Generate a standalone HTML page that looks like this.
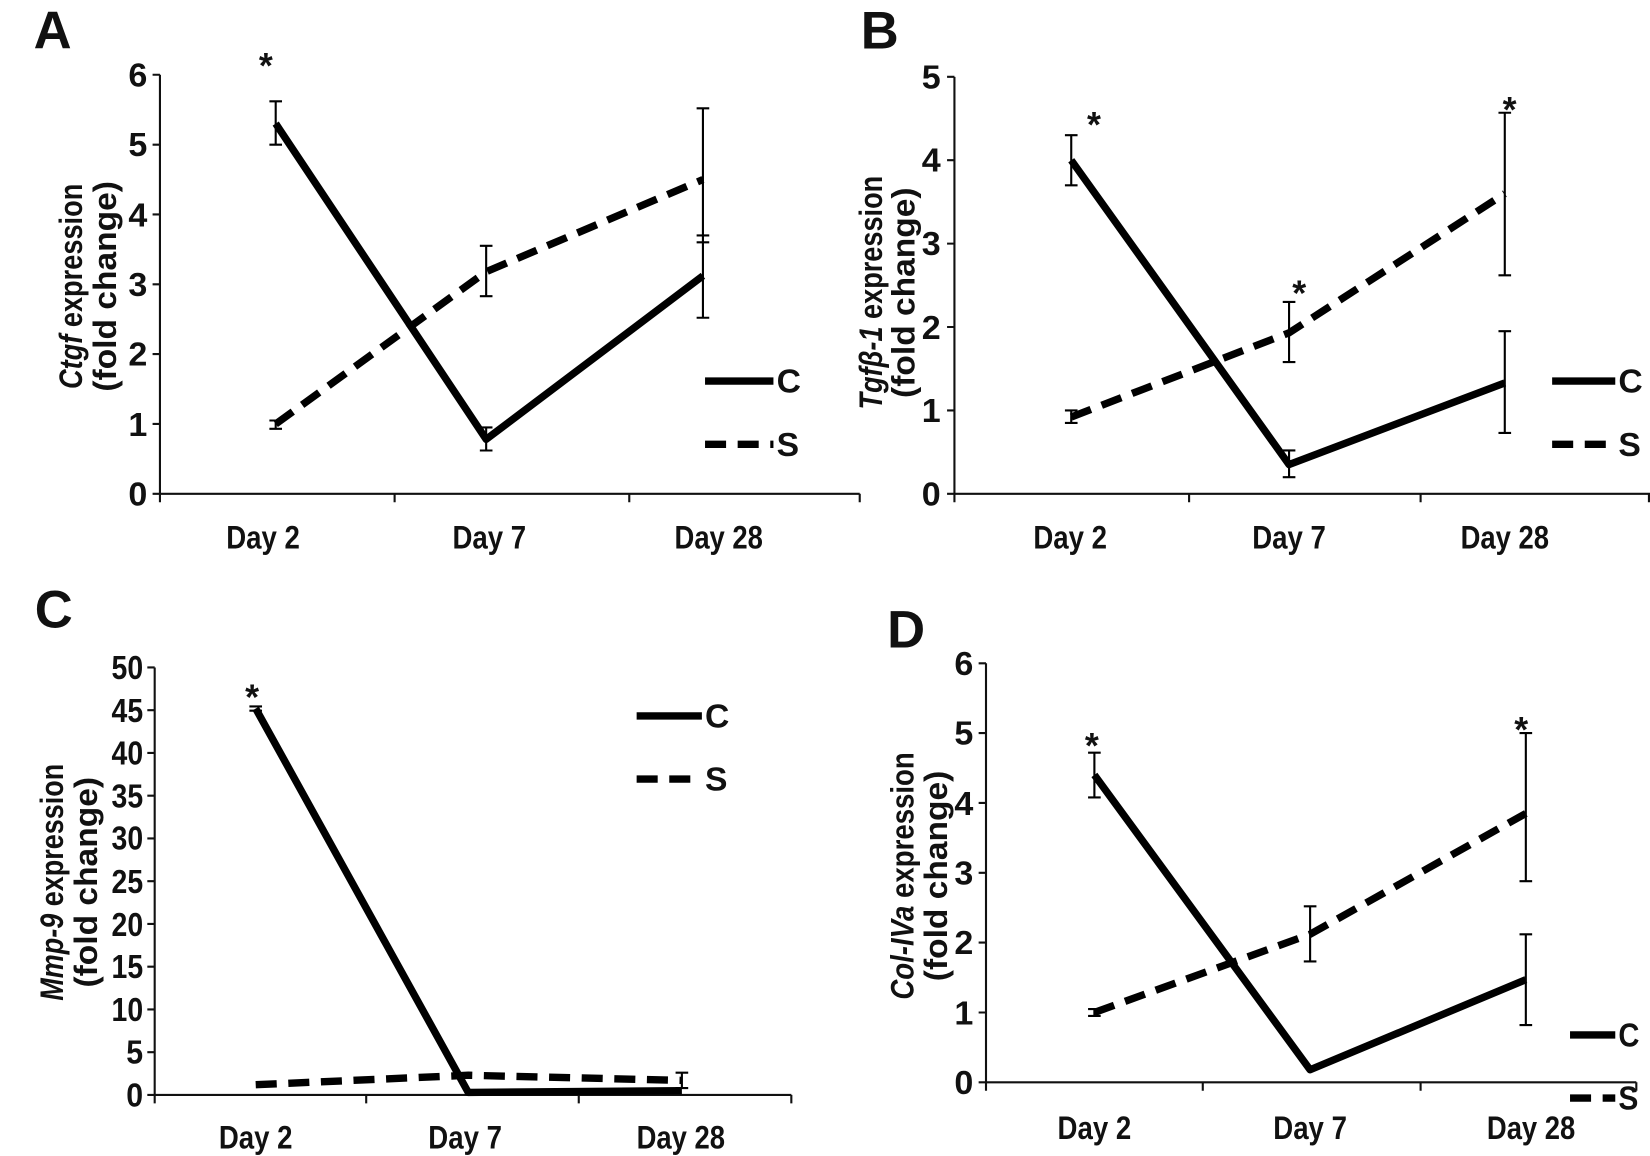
<!DOCTYPE html>
<html><head><meta charset="utf-8"><style>
html,body{margin:0;padding:0;background:#fff;}
svg{display:block;}
text{font-family:"Liberation Sans Narrow","Liberation Sans",Arial,sans-serif;font-weight:bold;fill:#111;}
.t{font-size:32px;}
.d{font-size:31px;}
.ti{font-size:31px;}
.L{font-size:50px;font-family:"Liberation Sans",Arial,sans-serif;}
.st{font-size:34px;font-family:"Liberation Sans",Arial,sans-serif;}
.ax{stroke:#111;stroke-width:2;fill:none;}
.c{stroke:#000;stroke-width:7;fill:none;stroke-linejoin:round;}
.s{stroke:#000;stroke-width:7;fill:none;stroke-dasharray:20 11;}
.e{stroke:#000;stroke-width:2;fill:none;}
</style></head><body>
<svg width="1650" height="1156" viewBox="0 0 1568 1098" preserveAspectRatio="none">
<!-- Panel A -->
<text class="L" x="32" y="46">A</text>
<path class="ax" d="M152 71V469H817M145 71H152M145 137.4H152M145 203.7H152M145 270H152M145 336.3H152M145 402.7H152M145 469H152M152 469V477M375 469V477M598 469V477M817 469V477"/>
<g class="t" text-anchor="end"><text x="140" y="82" textLength="18" lengthAdjust="spacingAndGlyphs">6</text><text x="140" y="148" textLength="18" lengthAdjust="spacingAndGlyphs">5</text><text x="140" y="215" textLength="18" lengthAdjust="spacingAndGlyphs">4</text><text x="140" y="281" textLength="18" lengthAdjust="spacingAndGlyphs">3</text><text x="140" y="347" textLength="18" lengthAdjust="spacingAndGlyphs">2</text><text x="140" y="414" textLength="18" lengthAdjust="spacingAndGlyphs">1</text><text x="140" y="480" textLength="18" lengthAdjust="spacingAndGlyphs">0</text></g>
<g class="d" text-anchor="middle"><text x="250" y="521" textLength="70" lengthAdjust="spacingAndGlyphs">Day 2</text><text x="465" y="521" textLength="70" lengthAdjust="spacingAndGlyphs">Day 7</text><text x="683" y="521" textLength="84" lengthAdjust="spacingAndGlyphs">Day 28</text></g>
<text class="ti" transform="translate(78,272) rotate(-90)" text-anchor="middle" textLength="195" lengthAdjust="spacingAndGlyphs"><tspan font-style="italic">Ctgf</tspan> expression</text>
<text class="ti" transform="translate(110,272) rotate(-90)" text-anchor="middle" textLength="200" lengthAdjust="spacingAndGlyphs">(fold change)</text>
<path class="s" d="M262 402.7L462 258.1L668 170.5"/>
<path class="c" d="M262 117.4L462 417.3L668 262"/>
<path class="e" d="M262 96.2V137.4M256 96.2H268M256 137.4H268M462 406V427.9M456 406H468M456 427.9H468M668 223.6V301.8M662 223.6H674M662 301.8H674M262 399.4V407.3M256 399.4H268M256 407.3H268M462 233.5V281.3M456 233.5H468M456 281.3H468M668 102.9V230.2M662 102.9H674M662 230.2H674"/>
<text class="st" x="246" y="74">*</text>
<path class="c" d="M670 362H735"/><path class="s" d="M670 422H735" stroke-dasharray="18 9"/>
<text class="t" x="738" y="373">C</text><text class="t" x="738" y="433">S</text>

<!-- Panel B -->
<text class="L" x="818" y="46">B</text>
<path class="ax" d="M907 73V469H1568M900 73H907M900 152.2H907M900 231.4H907M900 310.6H907M900 389.8H907M900 469H907M907 469V477M1130 469V477M1350 469V477M1567 469V477"/>
<g class="t" text-anchor="end"><text x="894" y="84" textLength="18" lengthAdjust="spacingAndGlyphs">5</text><text x="894" y="163" textLength="18" lengthAdjust="spacingAndGlyphs">4</text><text x="894" y="242" textLength="18" lengthAdjust="spacingAndGlyphs">3</text><text x="894" y="322" textLength="18" lengthAdjust="spacingAndGlyphs">2</text><text x="894" y="401" textLength="18" lengthAdjust="spacingAndGlyphs">1</text><text x="894" y="480" textLength="18" lengthAdjust="spacingAndGlyphs">0</text></g>
<g class="d" text-anchor="middle"><text x="1017" y="521" textLength="70" lengthAdjust="spacingAndGlyphs">Day 2</text><text x="1225" y="521" textLength="70" lengthAdjust="spacingAndGlyphs">Day 7</text><text x="1430" y="521" textLength="84" lengthAdjust="spacingAndGlyphs">Day 28</text></g>
<text class="ti" transform="translate(838,278) rotate(-90)" text-anchor="middle" textLength="222" lengthAdjust="spacingAndGlyphs"><tspan font-style="italic">Tgfβ-1</tspan> expression</text>
<text class="ti" transform="translate(869,278) rotate(-90)" text-anchor="middle" textLength="200" lengthAdjust="spacingAndGlyphs">(fold change)</text>
<path class="s" d="M1018 396.1L1225 316.1L1430 183.9"/>
<path class="c" d="M1018 152.2L1225 441.3L1430 363.7"/>
<path class="e" d="M1018 128.4V176M1012 128.4H1024M1012 176H1024M1225 427.8V453.2M1219 427.8H1231M1219 453.2H1231M1430 314.6V411.2M1424 314.6H1436M1424 411.2H1436M1018 389.8V401.7M1012 389.8H1024M1012 401.7H1024M1225 286.8V343.9M1219 286.8H1231M1219 343.9H1231M1430 107.1V261.5M1424 107.1H1436M1424 261.5H1436"/>
<text class="st" x="1033" y="130">*</text><text class="st" x="1228" y="290">*</text><text class="st" x="1428" y="116">*</text>
<path class="c" d="M1475 362H1535"/><path class="s" d="M1475 422H1535" stroke-dasharray="18 9"/>
<text class="t" x="1538" y="373">C</text><text class="t" x="1538" y="433">S</text>

<!-- Panel C -->
<text class="L" x="33" y="596">C</text>
<path class="ax" d="M147 634V1040H752M140 634H147M140 674.6H147M140 715.2H147M140 755.8H147M140 796.4H147M140 837H147M140 877.6H147M140 918.2H147M140 958.8H147M140 999.4H147M140 1040H147M147 1040V1048M348 1040V1048M550 1040V1048M752 1040V1048"/>
<g class="t" text-anchor="end"><text x="136" y="645" textLength="30" lengthAdjust="spacingAndGlyphs">50</text><text x="136" y="686" textLength="30" lengthAdjust="spacingAndGlyphs">45</text><text x="136" y="726" textLength="30" lengthAdjust="spacingAndGlyphs">40</text><text x="136" y="767" textLength="30" lengthAdjust="spacingAndGlyphs">35</text><text x="136" y="807" textLength="30" lengthAdjust="spacingAndGlyphs">30</text><text x="136" y="848" textLength="30" lengthAdjust="spacingAndGlyphs">25</text><text x="136" y="889" textLength="30" lengthAdjust="spacingAndGlyphs">20</text><text x="136" y="929" textLength="30" lengthAdjust="spacingAndGlyphs">15</text><text x="136" y="970" textLength="30" lengthAdjust="spacingAndGlyphs">10</text><text x="136" y="1010" textLength="16" lengthAdjust="spacingAndGlyphs">5</text><text x="136" y="1051" textLength="16" lengthAdjust="spacingAndGlyphs">0</text></g>
<g class="d" text-anchor="middle"><text x="243" y="1091" textLength="70" lengthAdjust="spacingAndGlyphs">Day 2</text><text x="442" y="1091" textLength="70" lengthAdjust="spacingAndGlyphs">Day 7</text><text x="647" y="1091" textLength="84" lengthAdjust="spacingAndGlyphs">Day 28</text></g>
<text class="ti" transform="translate(60,838) rotate(-90)" text-anchor="middle" textLength="225" lengthAdjust="spacingAndGlyphs"><tspan font-style="italic">Mmp-9</tspan> expression</text>
<text class="ti" transform="translate(92,838) rotate(-90)" text-anchor="middle" textLength="200" lengthAdjust="spacingAndGlyphs">(fold change)</text>
<path class="s" d="M243 1030.3L445 1021.3L648 1026.2"/>
<path class="c" d="M243 673L445 1037.6L648 1036"/>
<path class="e" d="M648 1018.9V1033.5M642 1018.9H654M642 1033.5H654M237 671H249M237 675H249"/>
<text class="st" x="233" y="674">*</text>
<path class="c" d="M605 680H667"/><path class="s" d="M605 740H667" stroke-dasharray="18 9"/>
<text class="t" x="670" y="691">C</text><text class="t" x="670" y="751">S</text>

<!-- Panel D -->
<text class="L" x="843" y="615">D</text>
<path class="ax" d="M937 630V1028H1555M930 630H937M930 696.3H937M930 762.7H937M930 829H937M930 895.3H937M930 961.7H937M930 1028H937M937 1028V1036M1143 1028V1036M1350 1028V1036M1555 1028V1036"/>
<g class="t" text-anchor="end"><text x="925" y="641" textLength="18" lengthAdjust="spacingAndGlyphs">6</text><text x="925" y="707" textLength="18" lengthAdjust="spacingAndGlyphs">5</text><text x="925" y="774" textLength="18" lengthAdjust="spacingAndGlyphs">4</text><text x="925" y="840" textLength="18" lengthAdjust="spacingAndGlyphs">3</text><text x="925" y="906" textLength="18" lengthAdjust="spacingAndGlyphs">2</text><text x="925" y="973" textLength="18" lengthAdjust="spacingAndGlyphs">1</text><text x="925" y="1039" textLength="18" lengthAdjust="spacingAndGlyphs">0</text></g>
<g class="d" text-anchor="middle"><text x="1040" y="1082" textLength="70" lengthAdjust="spacingAndGlyphs">Day 2</text><text x="1245" y="1082" textLength="70" lengthAdjust="spacingAndGlyphs">Day 7</text><text x="1455" y="1082" textLength="84" lengthAdjust="spacingAndGlyphs">Day 28</text></g>
<text class="ti" transform="translate(868,832) rotate(-90)" text-anchor="middle" textLength="235" lengthAdjust="spacingAndGlyphs"><tspan font-style="italic">Col-IVa</tspan> expression</text>
<text class="ti" transform="translate(900,832) rotate(-90)" text-anchor="middle" textLength="200" lengthAdjust="spacingAndGlyphs">(fold change)</text>
<path class="s" d="M1040 961.7L1245 887.4L1450 772.6"/>
<path class="c" d="M1040 736.1L1245 1016.1L1450 930.5"/>
<path class="e" d="M1040 714.9V757.4M1034 714.9H1046M1034 757.4H1046M1450 887.4V973.6M1444 887.4H1456M1444 973.6H1456M1040 958.4V965M1034 958.4H1046M1034 965H1046M1245 860.8V913.2M1239 860.8H1251M1239 913.2H1251M1450 696.3V837M1444 696.3H1456M1444 837H1456"/>
<text class="st" x="1031" y="720">*</text><text class="st" x="1439" y="705">*</text>
<path class="c" d="M1492 983H1535"/><path class="s" d="M1492 1043H1535" stroke-dasharray="16 8"/>
<text class="t" x="1538" y="994" textLength="20" lengthAdjust="spacingAndGlyphs">C</text><text class="t" x="1538" y="1054" textLength="19" lengthAdjust="spacingAndGlyphs">S</text>
</svg>
</body></html>
